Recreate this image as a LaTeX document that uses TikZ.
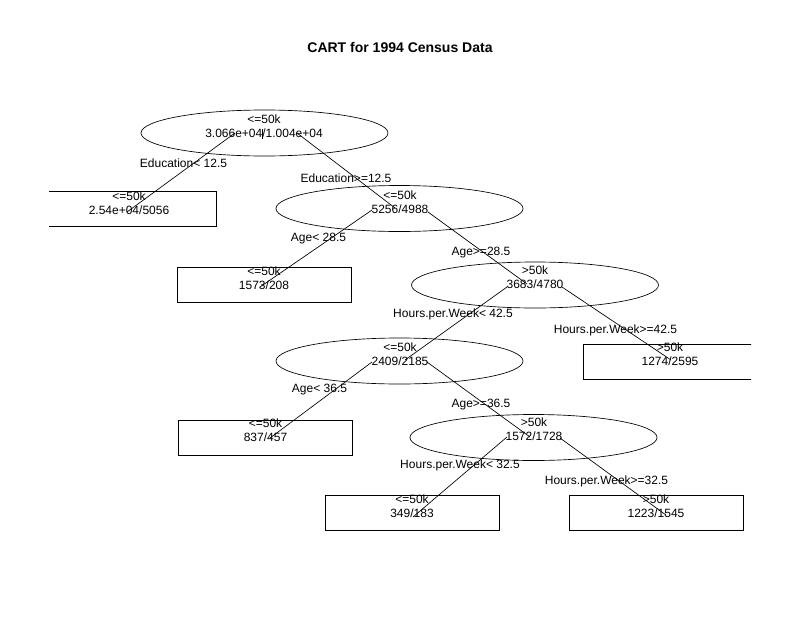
\documentclass[tikz,border=0pt]{standalone}
\usepackage{fontspec}
\setmainfont{Liberation Sans}
\usetikzlibrary{shapes.geometric,calc}
\begin{document}
\begin{tikzpicture}[x=0.75pt,y=-0.75pt,
  ell/.style={draw,ellipse,minimum width=185.25pt,minimum height=34.5pt,inner sep=0pt},
  leafbox/.style={draw,rectangle,minimum width=130.5pt,minimum height=26pt,inner sep=0pt},
  txt/.style={align=center,font=\fontsize{9}{10.4}\selectfont,inner sep=0pt},
  lab/.style={font=\fontsize{9}{10.4}\selectfont,inner sep=0pt},
  branch/.style={line width=0.5pt},
  every node/.style={line width=0.5pt}]
\useasboundingbox (0,0) rectangle (800,618);
\node[font=\fontsize{10.5}{12}\selectfont\bfseries,inner sep=0pt] (title) at (400,47) {CART for 1994 Census Data};
\begin{scope}
\clip (49,0) rectangle (751,618);
% internal nodes
\node[ell] (n1) at (264.5,133) {};
\node[txt] (n1t) at (264,126.5) {<=50k\\3.066e+04/1.004e+04};
\node[ell] (n3) at (399.5,208.5) {};
\node[txt] (n3t) at (400,202) {<=50k\\5256/4988};
\node[ell] (n5) at (535,285) {};
\node[txt] (n5t) at (535,277.5) {>50k\\3683/4780};
\node[ell] (n6) at (399.5,361) {};
\node[txt] (n6t) at (400,354) {<=50k\\2409/2185};
\node[ell] (n9) at (533.5,437.5) {};
\node[txt] (n9t) at (534,429.5) {>50k\\1572/1728};
% leaves
\node[leafbox] (l1) at (129,209) {};
\node[txt] (l1t) at (129,203) {<=50k\\2.54e+04/5056};
\node[leafbox] (l4) at (264,285) {};
\node[txt] (l4t) at (264,278) {<=50k\\1573/208};
\node[leafbox] (l7) at (670,361.5) {};
\node[txt] (l7t) at (670,354) {>50k\\1274/2595};
\node[leafbox] (l8) at (265.5,437.5) {};
\node[txt] (l8t) at (265.5,430) {<=50k\\837/457};
\node[leafbox] (l10) at (412,512.5) {};
\node[txt] (l10t) at (412,506) {<=50k\\349/183};
\node[leafbox] (l11) at (656,512.5) {};
\node[txt] (l11t) at (656,506) {>50k\\1223/1545};
% split labels
\node[lab] (s1) at (183.5,163) {Education< 12.5};
\node[lab] (s2) at (346,178) {Education>=12.5};
\node[lab] (s3) at (318.5,239) {Age< 28.5};
\node[lab] (s4) at (481,253) {Age>=28.5};
\node[lab] (s5) at (453,314) {Hours.per.Week< 42.5};
\node[lab] (s6) at (615.5,330) {Hours.per.Week>=42.5};
\node[lab] (s7) at (319.5,390) {Age< 36.5};
\node[lab] (s8) at (481,405) {Age>=36.5};
\node[lab] (s9) at (460,465) {Hours.per.Week< 32.5};
\node[lab] (s10) at (606.5,481) {Hours.per.Week>=32.5};
% branches
\draw[branch] ($(n1)+(-29.5,0)$) -- ($(l1)+(-2,3)$);
\draw[branch] ($(n1)+(32.5,0)$) -- ($(n3)+(-4.5,-0.5)$);
\draw[branch] ($(n3)+(-27.5,1.5)$) -- ($(l4)+(-4,2)$);
\draw[branch] ($(n3)+(28.5,3.5)$) -- ($(n5)+(-8,-1)$);
\draw[branch] ($(n5)+(-28,2)$) -- ($(n6)+(5.5,-1)$);
\draw[branch] ($(n5)+(27,2)$) -- ($(l7)+(1,-1.5)$);
\draw[branch] ($(n6)+(-27.5,1)$) -- ($(l8)+(4.5,0.5)$);
\draw[branch] ($(n6)+(27.5,1)$) -- ($(n9)+(-3.5,-0.5)$);
\draw[branch] ($(n9)+(-26.5,-0.5)$) -- ($(l10)+(1,4.5)$);
\draw[branch] ($(n9)+(26.5,0.5)$) -- ($(l11)+(10,2.5)$);
\draw[branch] ($(n1)+(-2,-4)$) -- ($(n1)+(-2,6)$);
\end{scope}
\end{tikzpicture}
\end{document}
